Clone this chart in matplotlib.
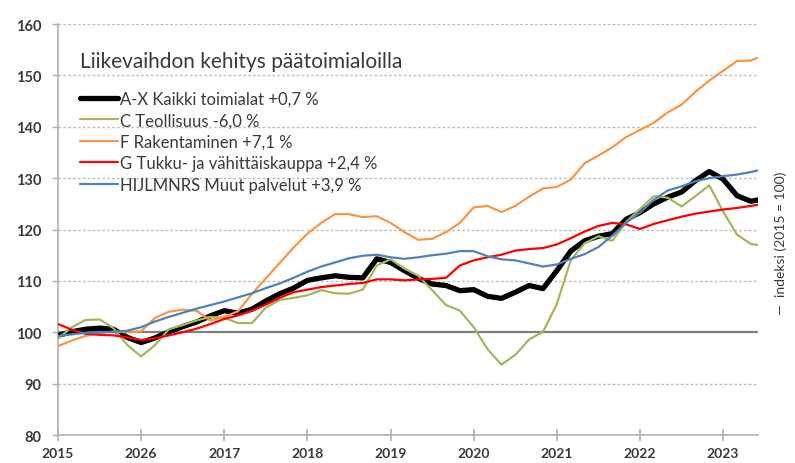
import numpy as np
from matplotlib import pyplot as plt

plt.rcParams["font.family"] = ["Lato", "DejaVu Sans"]

# Bimonthly points from Jan 2015 on (index 2015 = 100)
years = 2015 + np.arange(52) / 6.0

kaikki = [99.4, 100.1, 100.6, 100.8, 100.6, 99.0, 98.0, 98.9, 100.1, 101.1,
          102.0, 103.2, 104.2, 103.7, 104.5, 106.1, 107.5, 108.6, 110.1, 110.6,
          111.0, 110.7, 110.6, 114.3, 113.6, 112.0, 110.5, 109.4, 109.1, 108.1,
          108.3, 107.0, 106.6, 107.8, 109.1, 108.5, 112.0, 115.8, 117.8, 118.7,
          119.2, 122.0, 123.3, 125.0, 126.3, 127.3, 129.5, 131.3, 129.8, 126.6,
          125.5, 126.0]
teollisuus = [98.8, 101.0, 102.4, 102.5, 100.8, 97.5, 95.3, 97.5, 100.6, 101.4,
              102.3, 103.0, 102.8, 101.8, 101.8, 104.8, 106.3, 106.7, 107.2, 108.2,
              107.6, 107.5, 108.3, 113.0, 114.2, 112.4, 111.0, 108.2, 105.3, 104.2,
              101.0, 96.7, 93.7, 95.6, 98.6, 100.1, 105.5, 114.0, 117.3, 118.7,
              117.8, 121.5, 124.0, 126.5, 126.2, 124.5, 126.5, 128.6, 123.5, 119.0,
              117.2, 116.8]
rakentaminen = [97.3, 98.4, 99.3, 99.9, 100.1, 100.0, 100.2, 102.8, 104.0, 104.4,
                104.2, 102.3, 103.0, 104.1, 107.5, 110.5, 113.5, 116.5, 119.2, 121.3,
                123.0, 123.0, 122.4, 122.6, 121.3, 119.5, 118.0, 118.2, 119.5, 121.3,
                124.3, 124.6, 123.4, 124.6, 126.4, 128.0, 128.3, 129.7, 132.9, 134.4,
                136.0, 138.0, 139.4, 140.8, 142.8, 144.3, 146.8, 149.0, 150.9, 152.8,
                152.9, 154.0]
kauppa = [101.6, 100.5, 99.7, 99.5, 99.4, 99.0, 98.5, 98.8, 99.4, 100.0,
          100.7, 101.6, 102.6, 103.3, 104.2, 105.4, 106.7, 107.8, 108.3, 108.8,
          109.1, 109.4, 109.6, 110.3, 110.3, 110.1, 110.3, 110.4, 110.6, 113.0,
          114.0, 114.6, 115.1, 115.9, 116.2, 116.4, 117.1, 118.3, 119.6, 120.7,
          121.3, 121.0, 120.1, 121.1, 121.8, 122.5, 123.1, 123.5, 123.9, 124.2,
          124.6, 125.0]
palvelut = [99.3, 99.6, 99.9, 100.0, 100.1, 100.3, 101.0, 102.1, 103.0, 103.8,
            104.6, 105.3, 106.0, 106.8, 107.6, 108.6, 109.5, 110.6, 111.8, 112.8,
            113.6, 114.4, 114.9, 115.1, 114.6, 114.3, 114.6, 115.0, 115.3, 115.8,
            115.8, 114.8, 114.2, 114.0, 113.4, 112.8, 113.2, 114.3, 115.2, 116.6,
            118.8, 121.3, 123.3, 125.8, 127.6, 128.4, 129.4, 130.0, 130.4, 130.7,
            131.2, 131.8]

labels = ["A-X Kaikki toimialat +0,7 %", "C Teollisuus -6,0 %",
          "F Rakentaminen +7,1 %", "G Tukku- ja vähittäiskauppa +2,4 %",
          "HIJLMNRS Muut palvelut +3,9 %"]
tick_years = [2015, 2016, 2017, 2018, 2019, 2020, 2021, 2022, 2023]
tick_labels = ["2015", "2026", "2017", "2018", "2019", "2020", "2021", "2022", "2023"]
y_ticks = [80, 90, 100, 110, 120, 130, 140, 150, 160]

text_col = "#3a3a3a"
fig = plt.figure(figsize=(7.95, 4.64), dpi=100)
ax = fig.add_axes([0.073, 0.0603, 0.8805, 0.8857])

for y in y_ticks[1:]:
    if y == 100:
        ax.axhline(y, color="#7f7f7f", lw=1.6, zorder=1)
    else:
        ax.axhline(y, color="#c0c0c0", lw=1.0, ls=(0, (2, 1.5)), zorder=1)

series = [kaikki, teollisuus, rakentaminen, kauppa, palvelut]
colors = ["black", "#9BBB59", "#F79646", "#FF0000", "#4F81BD"]
widths = [3.8, 1.6, 1.6, 1.6, 1.6]
for vals, c, w, lab in zip(series, colors, widths, labels):
    ax.plot(years, vals, color=c, lw=w, label=lab, zorder=3,
            solid_capstyle="round", solid_joinstyle="round")

ax.set_xlim(2015, 2023.42)
ax.set_ylim(80, 160)
ax.set_yticks(y_ticks)
ax.set_xticks(tick_years)
ax.set_xticklabels(tick_labels)
for s in ["top", "right"]:
    ax.spines[s].set_visible(False)
for s in ["left", "bottom"]:
    ax.spines[s].set_color("#b0b0b0")
    ax.spines[s].set_linewidth(1.2)
ax.tick_params(axis="x", direction="inout", length=9, width=1.2, color="#b0b0b0",
               labelsize=10, labelcolor=text_col, pad=4)
ax.tick_params(axis="y", direction="out", length=4, width=1.0, color="#b0b0b0",
               labelsize=10.5, labelcolor=text_col, pad=8)
for t in ax.get_yticklabels() + ax.get_xticklabels():
    t.set_fontweight("bold")

ax.text(0.031, 0.91, "Liikevaihdon kehitys päätoimialoilla", transform=ax.transAxes,
        fontsize=15, color=text_col, va="center", ha="left")
ax.legend(loc="upper left", bbox_to_anchor=(0.031, 0.838), frameon=False,
          fontsize=12, handlelength=2.3, handletextpad=0.1, labelspacing=0.33,
          borderpad=0, borderaxespad=0, labelcolor=text_col)

fig.text(0.982, 0.476, "—  indeksi (2015 = 100)", rotation=90, fontsize=10,
         color=text_col, va="center", ha="center")

fig.savefig("out.png", dpi=100)
